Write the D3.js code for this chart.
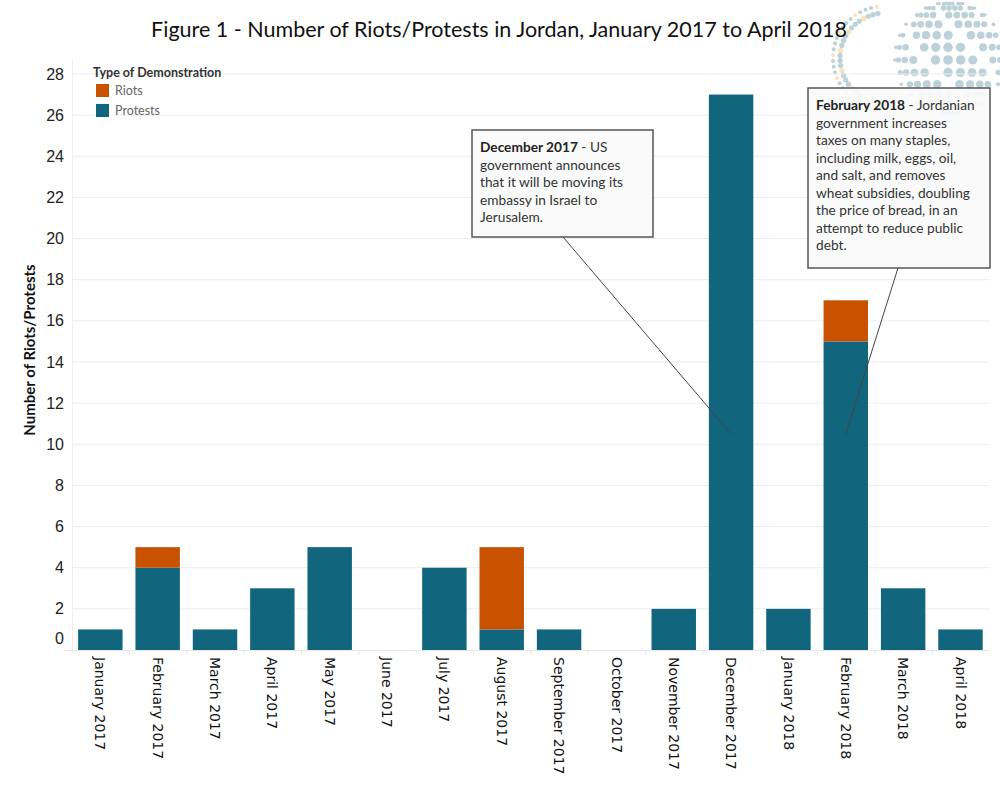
<!DOCTYPE html>
<html>
<head>
<meta charset="utf-8">
<script src="https://cdn.jsdelivr.net/npm/d3@7"></script>
<style>
  body { margin: 0; background: #fff; }
  svg { display: block; }
</style>
</head>
<body>
<svg id="chart" width="1000" height="800"></svg>
<script>
const months = ["January 2017","February 2017","March 2017","April 2017","May 2017","June 2017","July 2017","August 2017","September 2017","October 2017","November 2017","December 2017","January 2018","February 2018","March 2018","April 2018"];
const protests = [1,4,1,3,5,0,4,1,1,0,2,27,2,15,3,1];
const riots    = [0,1,0,0,0,0,0,4,0,0,0,0,0,2,0,0];
const yTicks = [0,2,4,6,8,10,12,14,16,18,20,22,24,26,28];
const seriesNames = ["Riots","Protests"];
const seriesColors = ["#c85200","#11667e"];
const titleText = "Figure 1 - Number of Riots/Protests in Jordan, January 2017 to April 2018";
const annotations = [
  {month: "December 2017", value: 10.5, bold: "December 2017", lines: [" - US","government announces","that it will be moving its","embassy in Israel to","Jerusalem."], box:[472,130,181,107], anchorX: 91},
  {month: "February 2018", value: 10.5, bold: "February 2018", lines: [" - Jordanian","government increases","taxes on many staples,","including milk, eggs, oil,","and salt, and removes","wheat subsidies, doubling","the price of bread, in an","attempt to reduce public","debt."], box:[808,88,182,180], anchorX: 90}
];

const svg = d3.select("#chart");

const x = d3.scaleBand().domain(months).range([71.8, 989]).paddingInner(0.225).paddingOuter(0.11);
const y = d3.scaleLinear().domain([0, 28]).range([650, 74]);

// decorative logo (dotted globe), generated procedurally
const logo = svg.append("g").attr("opacity", 0.5);
const logoDots = [];
const gcx = 950, gcy = 58, gR = 56;
for (let lat = -80; lat <= 80; lat += 13) {
  for (let lon = -170; lon <= 170; lon += 13) {
    const la = lat * Math.PI / 180, lo = (lon + 25) * Math.PI / 180;
    const zz = Math.cos(la) * Math.cos(lo);
    if (zz < 0.05) continue;
    const px = gcx + gR * Math.cos(la) * Math.sin(lo);
    const py = gcy - gR * Math.sin(la);
    if (px > 1000) continue;
    if (((lat + 80) / 13 + (lon + 170) / 13) % 5 === 0) continue;
    logoDots.push({cx: px, cy: py, rr: 1.2 + 3.6 * zz, c: ((lat + lon) / 13) % 3 === 0 ? "#f7c874" : "#7ba4b6"});
  }
}
for (let i = 0; i < 26; i++) {
  const a = Math.PI * (0.55 + i * 0.9 / 25);
  for (let j = 0; j < 2; j++) {
    const r = 52 - j * 7;
    logoDots.push({cx: 885 + Math.cos(a) * r, cy: 58 - Math.sin(a) * r, rr: 2 + j * 0.6, c: (i + j) % 4 === 0 ? "#f7c874" : "#7ba4b6"});
  }
}
logo.selectAll("circle").data(logoDots).join("circle")
  .attr("cx", d => d.cx).attr("cy", d => d.cy).attr("r", d => d.rr).attr("fill", d => d.c);

// gridlines
svg.append("g").selectAll("line").data(yTicks.filter(d => d > 0)).join("line")
  .attr("x1", 72).attr("x2", 989)
  .attr("y1", d => y(d)).attr("y2", d => y(d))
  .attr("stroke", "#ececec").attr("stroke-width", 1);

// left axis line
svg.append("line").attr("x1", 72.5).attr("x2", 72.5).attr("y1", 60).attr("y2", 650)
  .attr("stroke", "#eeeeee");

// y tick labels
svg.append("g").selectAll("text").data(yTicks).join("text")
  .attr("x", 64)
  .attr("y", d => d === 0 ? y(d) - 12 : y(d))
  .attr("dy", "0.35em")
  .attr("text-anchor", "end")
  .attr("font-family", "Liberation Sans, Arial, sans-serif")
  .attr("font-size", 16)
  .attr("fill", "#222")
  .text(d => d);

// y axis title
svg.append("text")
  .attr("transform", "translate(35,350) rotate(-90)")
  .attr("text-anchor", "middle")
  .attr("font-family", "Lato, sans-serif")
  .attr("font-weight", "bold")
  .attr("font-size", 15)
  .attr("fill", "#111")
  .text("Number of Riots/Protests");

// stacked bars
const rows = months.map((m, i) => ({month: m, Protests: protests[i], Riots: riots[i]}));
const stack = d3.stack().keys(["Protests", "Riots"])(rows);
const colorOf = k => seriesColors[seriesNames.indexOf(k)];
svg.append("g").selectAll("g").data(stack).join("g")
  .attr("fill", d => colorOf(d.key))
  .selectAll("rect").data(d => d.filter(p => p[1] - p[0] > 0)).join("rect")
  .attr("x", d => x(d.data.month))
  .attr("width", x.bandwidth())
  .attr("y", d => y(d[1]))
  .attr("height", d => y(d[0]) - y(d[1]));

// x baseline and ticks
svg.append("line").attr("x1", 64).attr("x2", 989).attr("y1", 650.5).attr("y2", 650.5)
  .attr("stroke", "#e8e8e8");
const step = x.step();
svg.append("g").selectAll("line").data(months).join("line")
  .attr("x1", d => x(d) + x.bandwidth() / 2 - step / 2 + 0.5)
  .attr("x2", d => x(d) + x.bandwidth() / 2 - step / 2 + 0.5)
  .attr("y1", 650).attr("y2", 655)
  .attr("stroke", "#e8e8e8");

// x labels rotated
svg.append("g").selectAll("text").data(months).join("text")
  .attr("transform", d => `translate(${x(d) + x.bandwidth() / 2},657) rotate(90)`)
  .attr("dy", "0.35em")
  .attr("text-anchor", "start")
  .attr("font-family", "DejaVu Sans, sans-serif")
  .attr("font-size", 14)
  .attr("fill", "#111")
  .text(d => d);

// legend
const lg = svg.append("g");
lg.append("text").attr("x", 93).attr("y", 77)
  .attr("font-family", "Lato, sans-serif").attr("font-weight", "bold")
  .attr("font-size", 12.5).attr("fill", "#333").text("Type of Demonstration");
lg.selectAll("rect").data(seriesNames).join("rect")
  .attr("x", 96).attr("y", (d, i) => 84 + i * 20)
  .attr("width", 13).attr("height", 13)
  .attr("fill", d => colorOf(d));
lg.selectAll("text.item").data(seriesNames).join("text").attr("class", "item")
  .attr("x", 115).attr("y", (d, i) => 95 + i * 20)
  .attr("font-family", "Lato, sans-serif").attr("font-size", 12.5)
  .attr("fill", "#666").text(d => d);

// annotations
annotations.forEach(a => {
  const [bx, by, bw, bh] = a.box;
  const g = svg.append("g");
  const tx = x(a.month) + x.bandwidth() / 2;
  const ty = y(a.value);
  g.append("line")
    .attr("x1", bx + a.anchorX).attr("y1", by + bh)
    .attr("x2", tx).attr("y2", ty)
    .attr("stroke", "#444").attr("stroke-width", 1);
  g.append("rect").attr("x", bx).attr("y", by).attr("width", bw).attr("height", bh)
    .attr("fill", "#f9f9f9").attr("fill-opacity", 0.9).attr("stroke", "#555").attr("stroke-width", 1.5);
  const t = g.append("text").attr("font-family", "Lato, sans-serif").attr("font-size", 13.7).attr("fill", "#333");
  a.lines.forEach((ln, i) => {
    const ts = t.append("tspan").attr("x", bx + 8).attr("y", by + 22 + i * 17.5);
    if (i === 0) {
      ts.append("tspan").attr("font-weight", "bold").attr("fill", "#222").text(a.bold);
      ts.append("tspan").text(ln);
    } else ts.text(ln);
  });
});

// title
svg.append("text").attr("x", 499).attr("y", 37)
  .attr("text-anchor", "middle")
  .attr("font-family", "Lato, sans-serif")
  .attr("font-size", 21.5)
  .attr("fill", "#111")
  .text(titleText);
</script>
</body>
</html>
